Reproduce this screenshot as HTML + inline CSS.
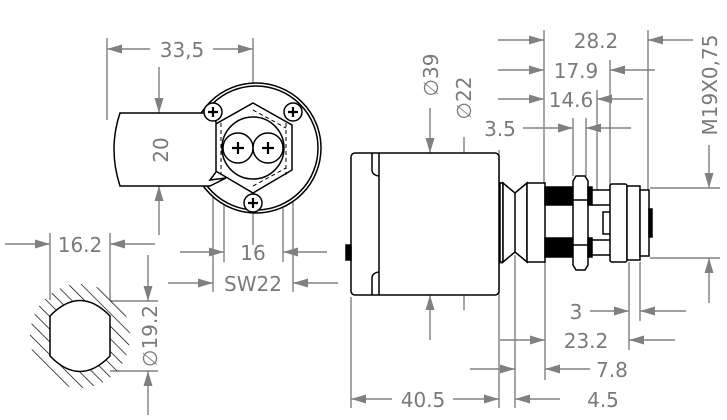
<!DOCTYPE html>
<html><head><meta charset="utf-8"><style>
html,body{margin:0;padding:0;background:#fff;}
svg{display:block;}
text{font-family:"DejaVu Sans","Liberation Sans",sans-serif;font-size:20px;fill:#7a7a7a;}
</style></head><body>
<svg width="727" height="420" viewBox="0 0 727 420" xmlns="http://www.w3.org/2000/svg">
<defs>
<marker id="a" markerUnits="userSpaceOnUse" markerWidth="16" markerHeight="10" refX="15" refY="5" orient="auto">
<path d="M0,0.5 L15,5 L0,9.5 z" fill="#808080"/></marker>
<pattern id="h" width="9" height="9" patternUnits="userSpaceOnUse" patternTransform="rotate(-45)">
<line x1="0" y1="0" x2="0" y2="9" stroke="#000" stroke-width="1.4"/></pattern>
<clipPath id="c"><ellipse cx="80" cy="336" rx="50" ry="52"/></clipPath>
</defs>
<g stroke="#808080" stroke-width="1.4" fill="none">
<line x1="107" y1="38" x2="107" y2="120"/>
<line x1="253" y1="38" x2="253" y2="245"/>
<line x1="150" y1="49" x2="107" y2="49" marker-end="url(#a)"/>
<line x1="213" y1="49" x2="253" y2="49" marker-end="url(#a)"/>
<line x1="159" y1="67" x2="159" y2="113" marker-end="url(#a)"/>
<line x1="159" y1="235" x2="159" y2="186" marker-end="url(#a)"/>
<line x1="224" y1="195" x2="224" y2="262"/>
<line x1="283" y1="195" x2="283" y2="262"/>
<line x1="180" y1="252" x2="224" y2="252" marker-end="url(#a)"/>
<line x1="327" y1="252" x2="283" y2="252" marker-end="url(#a)"/>
<line x1="213" y1="180" x2="213" y2="292"/>
<line x1="293" y1="180" x2="293" y2="292"/>
<line x1="168" y1="283" x2="213" y2="283" marker-end="url(#a)"/>
<line x1="338" y1="283" x2="293" y2="283" marker-end="url(#a)"/>
<line x1="50" y1="233" x2="50" y2="300"/>
<line x1="110" y1="233" x2="110" y2="300"/>
<line x1="5" y1="244" x2="50" y2="244" marker-end="url(#a)"/>
<line x1="155" y1="244" x2="110" y2="244" marker-end="url(#a)"/>
<line x1="110" y1="301" x2="158" y2="301"/>
<line x1="110" y1="371" x2="158" y2="371"/>
<line x1="148" y1="255" x2="148" y2="301" marker-end="url(#a)"/>
<line x1="148" y1="415" x2="148" y2="371" marker-end="url(#a)"/>
<line x1="430" y1="108" x2="430" y2="153" marker-end="url(#a)"/>
<line x1="430" y1="340" x2="430" y2="295" marker-end="url(#a)"/>
<line x1="464" y1="137" x2="464" y2="183" marker-end="url(#a)"/>
<line x1="464" y1="310" x2="464" y2="263" marker-end="url(#a)"/>
<line x1="455" y1="183" x2="503" y2="183"/>
<line x1="455" y1="263" x2="503" y2="263"/>
<line x1="544" y1="30" x2="544" y2="183"/>
<line x1="648" y1="30" x2="648" y2="190"/>
<line x1="610" y1="60" x2="610" y2="190"/>
<line x1="597" y1="90" x2="597" y2="190"/>
<line x1="573" y1="118" x2="573" y2="176"/>
<line x1="586" y1="118" x2="586" y2="176"/>
<line x1="498" y1="40" x2="544" y2="40" marker-end="url(#a)"/>
<line x1="693" y1="40" x2="648" y2="40" marker-end="url(#a)"/>
<line x1="498" y1="70" x2="544" y2="70" marker-end="url(#a)"/>
<line x1="655" y1="70" x2="610" y2="70" marker-end="url(#a)"/>
<line x1="498" y1="99" x2="544" y2="99" marker-end="url(#a)"/>
<line x1="643" y1="99" x2="597" y2="99" marker-end="url(#a)"/>
<line x1="523" y1="128" x2="573" y2="128" marker-end="url(#a)"/>
<line x1="631" y1="128" x2="586" y2="128" marker-end="url(#a)"/>
<line x1="650" y1="188" x2="720" y2="188"/>
<line x1="650" y1="258" x2="720" y2="258"/>
<line x1="709" y1="145" x2="709" y2="188" marker-end="url(#a)"/>
<line x1="709" y1="303" x2="709" y2="258" marker-end="url(#a)"/>
<line x1="351" y1="297" x2="351" y2="408"/>
<line x1="499" y1="150" x2="499" y2="408"/>
<line x1="515" y1="255" x2="515" y2="408"/>
<line x1="545" y1="262" x2="545" y2="380"/>
<line x1="629" y1="262" x2="629" y2="350"/>
<line x1="640" y1="262" x2="640" y2="321"/>
<line x1="590" y1="311" x2="629" y2="311" marker-end="url(#a)"/>
<line x1="686" y1="311" x2="640" y2="311" marker-end="url(#a)"/>
<line x1="500" y1="340" x2="545" y2="340" marker-end="url(#a)"/>
<line x1="675" y1="340" x2="629" y2="340" marker-end="url(#a)"/>
<line x1="470" y1="369" x2="515" y2="369" marker-end="url(#a)"/>
<line x1="590" y1="369" x2="545" y2="369" marker-end="url(#a)"/>
<line x1="392" y1="399" x2="351" y2="399" marker-end="url(#a)"/>
<line x1="453" y1="399" x2="499" y2="399" marker-end="url(#a)"/>
<line x1="560" y1="399" x2="515" y2="399" marker-end="url(#a)"/>
</g>
<g stroke="#000" stroke-width="1.5" fill="#fff">
<circle cx="256" cy="148" r="65"/>
<circle cx="256" cy="148" r="62"/>
<path d="M253,103 L292,125 L292,170 L253,193 L214,170 L214,125 z"/>
<path d="M120,113 L210,113 L216,122 L216,172 L210,180 L226,178 L210,186 L120,186 Q108,149 120,113 z"/>
<circle cx="253" cy="148" r="31"/>
<circle cx="238" cy="148" r="15"/>
<circle cx="268" cy="148" r="15"/>
<circle cx="213" cy="112" r="9"/>
<circle cx="293" cy="112" r="9"/>
<circle cx="253" cy="203" r="9"/>
</g>
<g stroke="#000" stroke-width="1" fill="none" stroke-dasharray="4,3">
<path d="M221,123 L221,175 M286,123 L286,175 M253,110 L286,128 M253,186 L286,168"/>
</g>
<g stroke="#000" stroke-width="2.2" fill="none">
<path d="M232,148h12M238,142v12M262,148h12M268,142v12M208,112h10M213,107v10M288,112h10M293,107v10M248,203h10M253,198v10"/>
</g>
<rect x="20" y="270" width="130" height="130" fill="url(#h)" clip-path="url(#c)"/>
<path d="M50,316 Q80,285 110,316 L110,356 Q80,387 50,356 z" fill="#fff" stroke="#000" stroke-width="1.5"/>
<g stroke="#000" stroke-width="1.5" fill="#fff">
<rect x="351" y="153" width="148" height="142" rx="4"/>
<line x1="379" y1="153" x2="379" y2="295"/>
<path d="M372,153 L372,170 Q372,175 379,176 M372,295 L372,278 Q372,273 379,272" fill="none"/>
<rect x="346" y="245" width="5" height="15" fill="#000"/>
<rect x="500" y="183" width="3" height="79"/>
<path d="M503,183 L515,193 L527,183 L527,262 L515,252 L503,262 z"/>
<line x1="515" y1="193" x2="515" y2="252"/>
<rect x="527" y="183" width="18" height="79"/>
<rect x="545" y="187" width="28" height="18" fill="#000"/>
<rect x="545" y="238" width="28" height="19" fill="#000"/>
<path d="M576,176 L585,176 L588,181 L588,265 L585,270 L576,270 L573,265 L573,181 z"/>
<line x1="573" y1="200" x2="588" y2="200"/>
<line x1="573" y1="245" x2="588" y2="245"/>
<rect x="588" y="187" width="4" height="18" fill="#000"/>
<rect x="588" y="238" width="4" height="19" fill="#000"/>
<rect x="592" y="190" width="19" height="15"/>
<rect x="592" y="240" width="19" height="15"/>
<rect x="603" y="212" width="8" height="22"/>
<rect x="610" y="184" width="17" height="78" rx="2"/>
<rect x="627" y="186" width="13" height="74"/>
<rect x="640" y="190" width="9" height="66"/>
<rect x="649" y="209" width="3" height="28" fill="#000"/>
</g>
<text x="182" y="57" text-anchor="middle">33,5</text>
<text transform="translate(168,150) rotate(-90)" text-anchor="middle">20</text>
<text x="253" y="260" text-anchor="middle">16</text>
<text x="253" y="291" text-anchor="middle">SW22</text>
<text x="80" y="252" text-anchor="middle">16.2</text>
<text transform="translate(157,336) rotate(-90)" text-anchor="middle">∅19.2</text>
<text transform="translate(438,75) rotate(-90)" text-anchor="middle">∅39</text>
<text transform="translate(471,98) rotate(-90)" text-anchor="middle">∅22</text>
<text x="596" y="48" text-anchor="middle">28.2</text>
<text x="576" y="78" text-anchor="middle">17.9</text>
<text x="571" y="107" text-anchor="middle">14.6</text>
<text x="500" y="136" text-anchor="middle">3.5</text>
<text transform="translate(717,85) rotate(-90)" text-anchor="middle">M19X0,75</text>
<text x="576" y="319" text-anchor="middle">3</text>
<text x="586" y="348" text-anchor="middle">23.2</text>
<text x="612" y="377" text-anchor="middle">7.8</text>
<text x="423" y="407" text-anchor="middle">40.5</text>
<text x="603" y="407" text-anchor="middle">4.5</text>
</svg>
</body></html>
